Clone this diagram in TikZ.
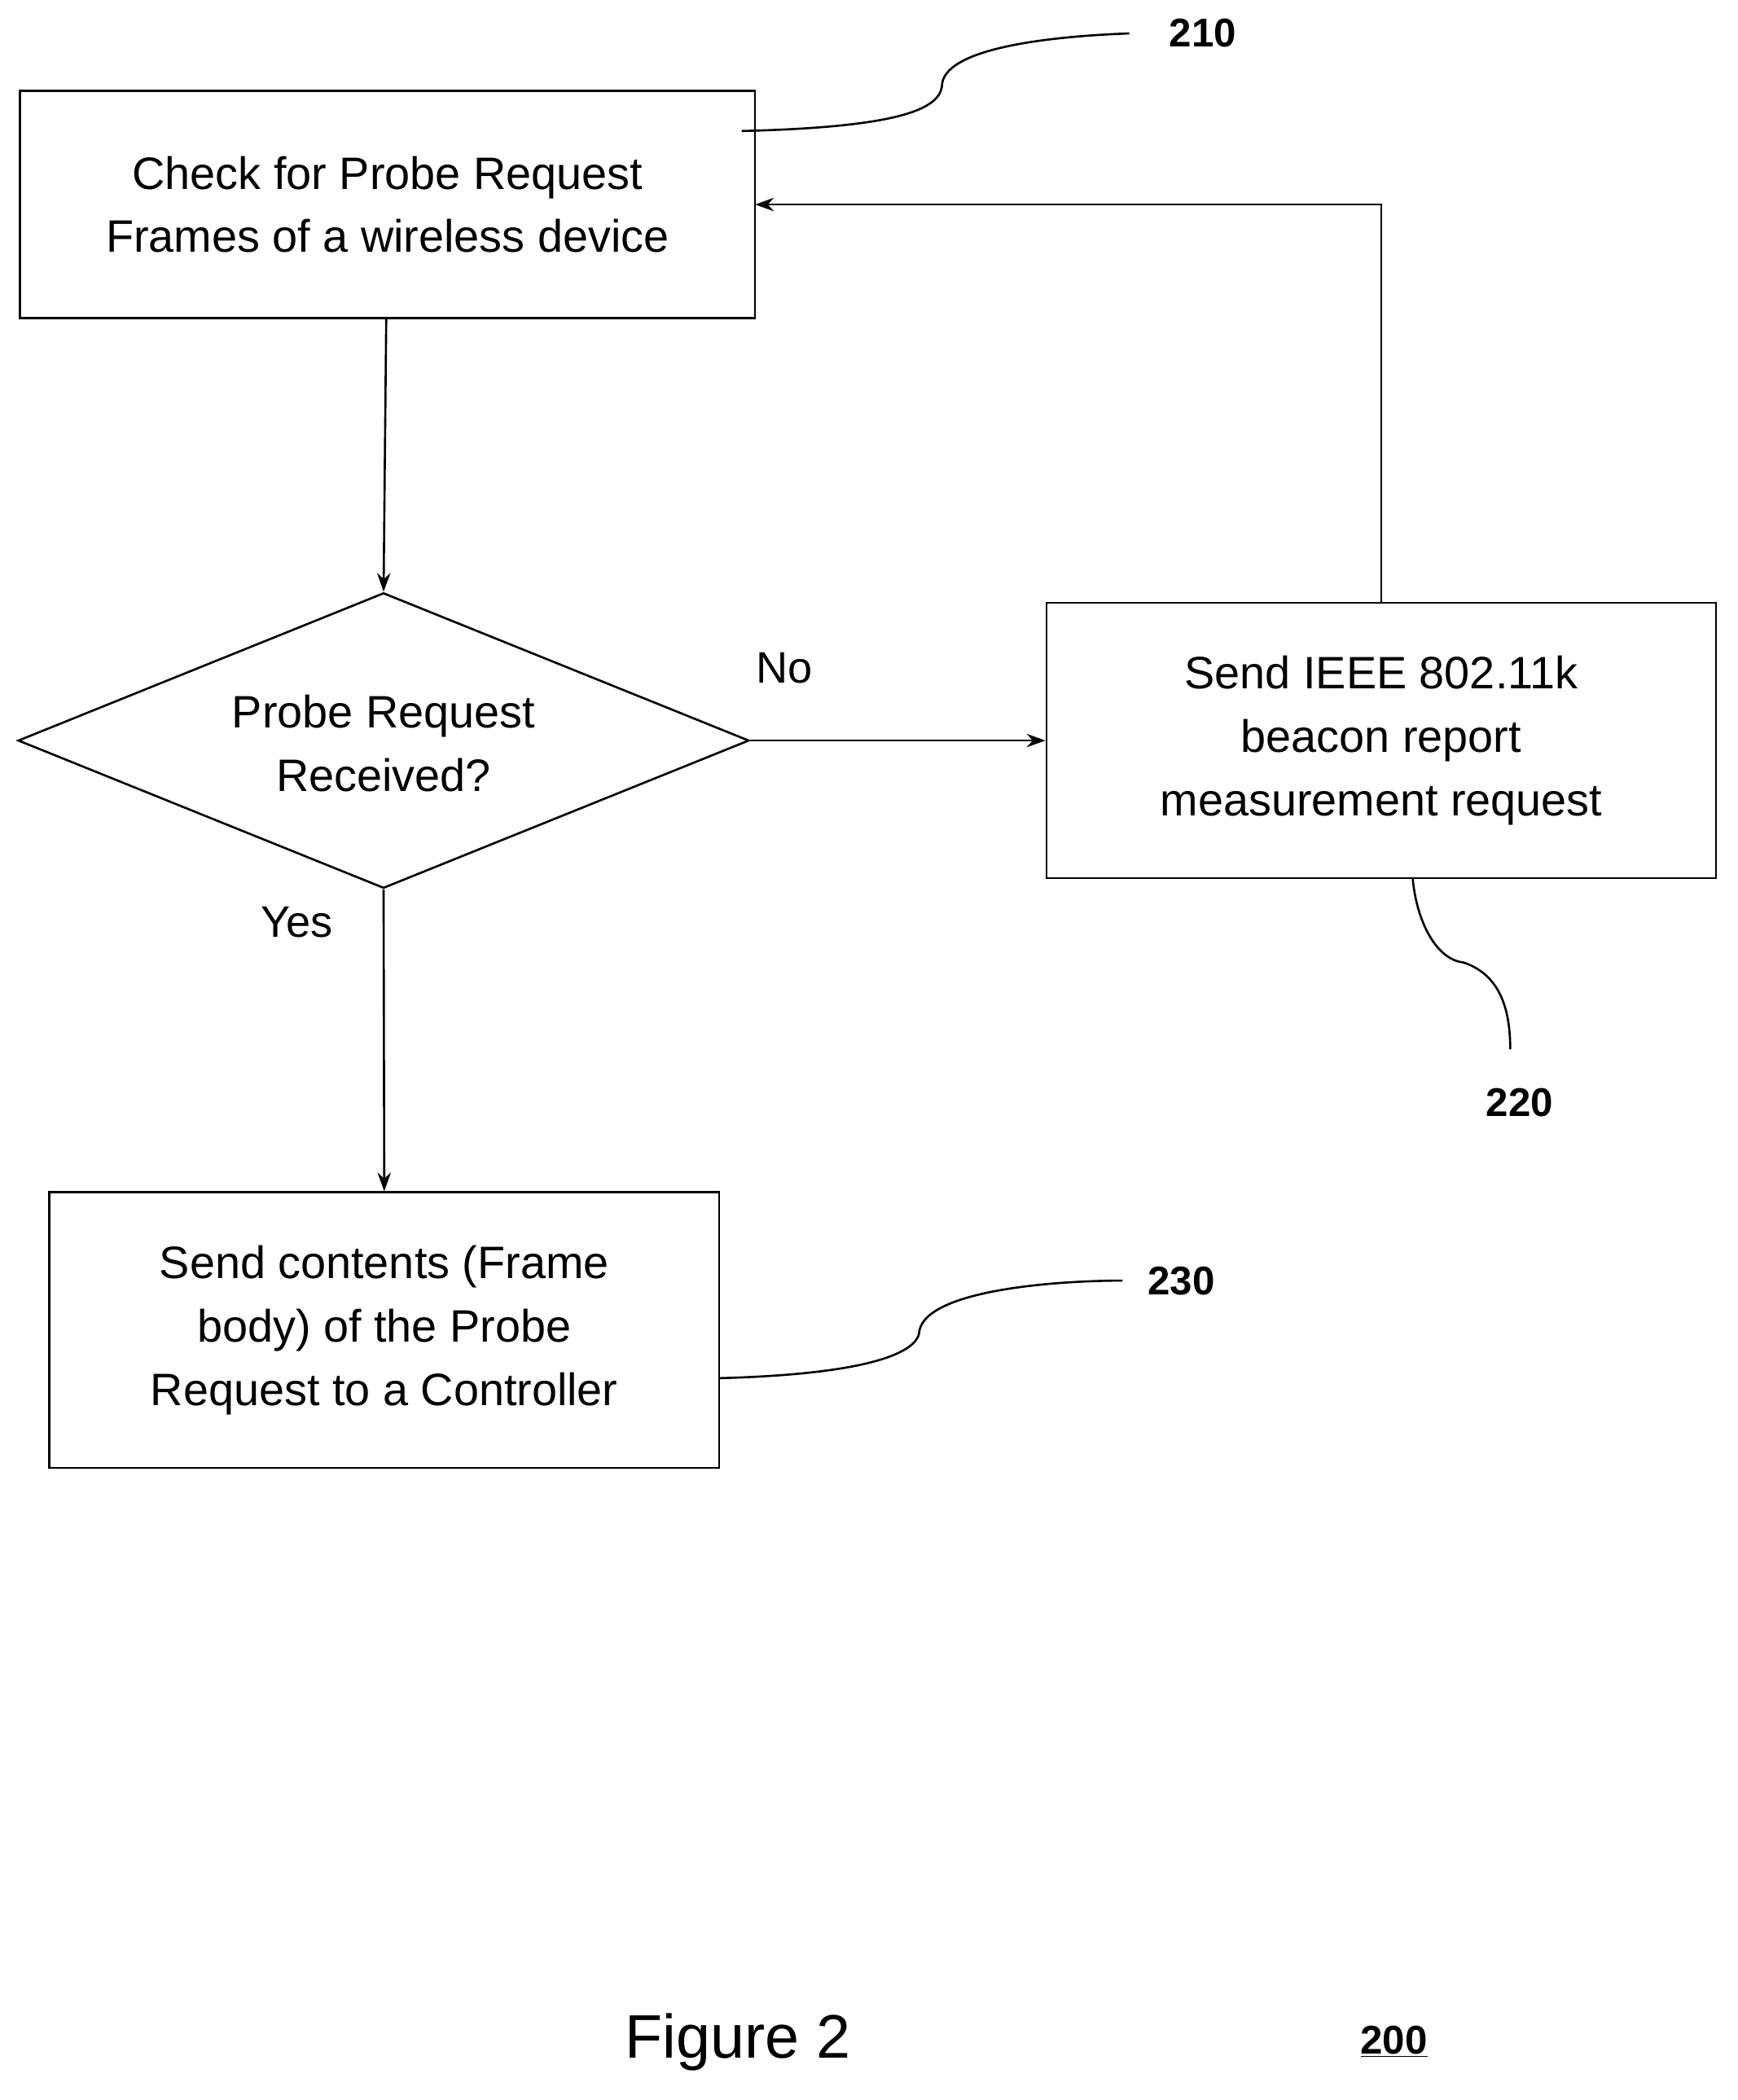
\documentclass[tikz,border=0pt]{standalone}
\usepackage{fontspec}
\setmainfont{Liberation Sans}
\usetikzlibrary{shapes.geometric,arrows.meta}
\begin{document}
\begin{tikzpicture}[x=1pt,y=-1pt,
  box/.style={draw,line width=1.6pt,align=center,font=\fontsize{34}{47.5}\selectfont},
  lab/.style={font=\fontsize{33}{40}\selectfont},
  ref/.style={font=\bfseries\fontsize{30}{36}\selectfont},
  arr/.style={line width=1.6pt,-{Stealth[length=14pt,width=10pt]}},
  lead/.style={line width=1.6pt}]
\useasboundingbox (0,0) rectangle (1300,1571);
\node[box,minimum width=550pt,minimum height=170pt] (b210) at (290,153) {Check for Probe Request\\Frames of a wireless device};
\node[draw,line width=1.6pt,diamond,aspect=2.475,minimum width=547pt,minimum height=221pt,inner sep=0pt] (d) at (287,554) {};
\node[align=center,font=\fontsize{34}{47.5}\selectfont] (dt) at (287,556) {Probe Request\\Received?};
\node[box,minimum width=501pt,minimum height=206pt] (b220) at (1033.5,554) {Send IEEE 802.11k\\beacon report\\measurement request};
\node[box,minimum width=501pt,minimum height=206pt] (b230) at (287.5,995) {Send contents (Frame\\body) of the Probe\\Request to a Controller};
\draw[arr] (289,238) -- (d.north);
\draw[arr] (d.east) -- (b220.west);
\node[lab] (no) at (587,500) {No};
\draw[arr] (b220.north) |- (565,153);
\draw[arr] (d.south) -- (b230.north);
\node[lab] (yes) at (222,690) {Yes};
\node[ref] (r210) at (900,25) {210};
\node[ref] (r220) at (1137,825) {220};
\node[ref] (r230) at (884,958) {230};
\coordinate (c210) at (555,98);
\coordinate (c220) at (1057,657);
\coordinate (c230) at (538,1031);
\draw[lead] (c210) .. controls (680,95) and (705,80) .. (705,62) .. controls (710,35) and (790,27) .. (845,25);
\draw[lead] (c220) .. controls (1060,690) and (1075,718) .. (1095,720) .. controls (1125,730) and (1130,760) .. (1130,785);
\draw[lead] (c230) .. controls (650,1028) and (688,1012) .. (688,995) .. controls (695,965) and (790,958) .. (840,958);
\node[font=\fontsize{46}{55}\selectfont] (fig) at (552,1528) {Figure 2};
\node[ref] (r200) at (1043,1527) {\underline{200}};
\end{tikzpicture}
\end{document}
